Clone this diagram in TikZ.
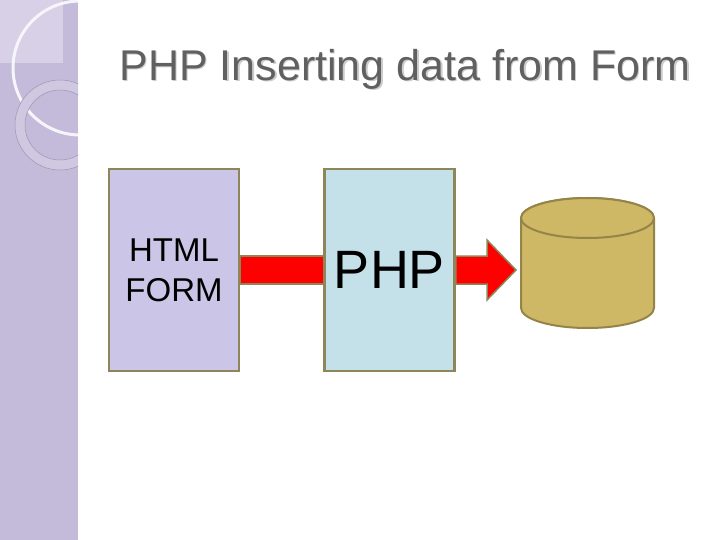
\documentclass[tikz,border=0pt]{standalone}
\usepackage{fontspec}
\setmainfont{Liberation Sans}
\definecolor{strip}{HTML}{C4BBDA}
\definecolor{stripl}{HTML}{D8D0E6}
\definecolor{edge}{HTML}{8E8658}
\definecolor{formc}{HTML}{CBC6E7}
\definecolor{phpc}{HTML}{C4E0E8}
\definecolor{dbc}{HTML}{CEB865}
\definecolor{dbe}{HTML}{958447}
\definecolor{titlec}{HTML}{606060}
\begin{document}
\begin{tikzpicture}[x=1pt,y=-1pt,
  boxst/.style={draw=edge,line width=2.5pt,minimum width=130pt,minimum height=202pt,inner sep=0pt},
  arrowst/.style={fill=red,draw=edge,line width=1.5pt}]
\useasboundingbox (0,0) rectangle (720,540);
\fill[white] (0,0) rectangle (720,540);
\begin{scope}
\clip (0,0) rectangle (78,540);
\fill[strip] (0,0) rectangle (78,540);
\fill[stripl] (0,0) rectangle (63,63);
\draw[white!85!strip,line width=3pt] (80,68) circle (67);
\draw[strip!80!black,line width=0.5pt,fill=stripl!60!strip,even odd rule] (60,125) circle (45) (60,125) circle (35);
\end{scope}
\node[text=gray!40,font=\fontsize{43}{48}\selectfont] at (406.5,70.5) {PHP Inserting data from Form};
\node (title) [text=titlec,font=\fontsize{43}{48}\selectfont] at (405,69) {PHP Inserting data from Form};
\node (form) [boxst,fill=formc,align=center,font=\fontsize{33}{40}\selectfont] at (174,270) {HTML\\FORM};
\node (php) [boxst,fill=phpc,font=\fontsize{54}{60}\selectfont] at (389.5,270) {PHP};
\draw[arrowst] (form.east |- 0,256) rectangle (php.west |- 0,284);
\coordinate (tip) at (516,270);
\draw[arrowst] (php.east |- 0,256) -- (487,256) -- (487,240) -- (tip) -- (487,300) -- (487,284) -- (php.east |- 0,284) -- cycle;
\node (db) [inner sep=0pt,minimum size=0pt] at (587.5,270) {};
\draw[fill=dbc,draw=dbe,line width=2pt] (521,218) -- (521,308) arc[start angle=180,end angle=0,x radius=66.5,y radius=20] -- (654,218) arc[start angle=0,end angle=-180,x radius=66.5,y radius=20];
\draw[fill=dbc,draw=dbe,line width=2pt] (587.5,218) ellipse[x radius=66.5,y radius=20];
\end{tikzpicture}
\end{document}
